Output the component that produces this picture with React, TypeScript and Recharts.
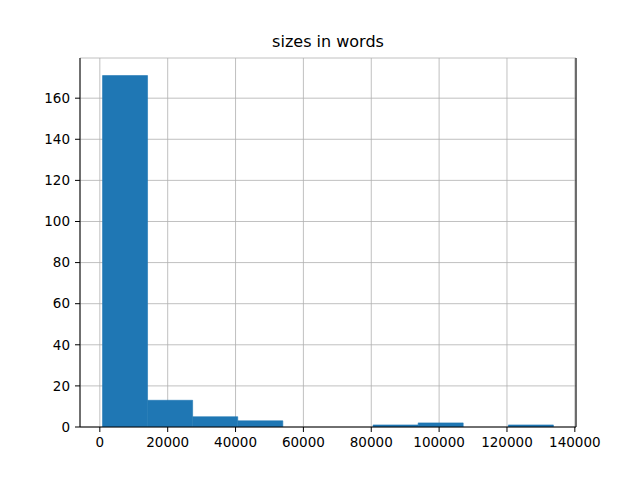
import React from "react";
import { BarChart, Bar, XAxis, YAxis, CartesianGrid } from "recharts";

// Histogram of document sizes (words): 10 equal bins
const binStart = 800;
const binEnd = 133700;
const counts = [171, 13, 5, 3, 0, 0, 1, 2, 0, 1];
const xTicks = [0, 20000, 40000, 60000, 80000, 100000, 120000, 140000];
const yTicks = [0, 20, 40, 60, 80, 100, 120, 140, 160];
const title = "sizes in words";

const binWidth = (binEnd - binStart) / counts.length;
const data = counts.map((c, i) => ({ center: binStart + binWidth * (i + 0.5), count: c }));
const xPad = (binEnd - binStart) * 0.05;
const xDomain = [binStart - xPad, binEnd + xPad];
const yDomain = [0, Math.max(...counts) * 1.05];

const font = "'DejaVu Sans', sans-serif";
const tickStyle = { fill: "#000", fontSize: 13.5, fontFamily: font };

export default function App() {
  return (
    <div style={{ position: "absolute", left: 0, top: 0, width: 640, height: 480, background: "#fff", fontFamily: font }}>
      <div style={{ position: "absolute", left: 80, width: 496, top: 34, textAlign: "center", fontSize: 16, lineHeight: "16px", color: "#000" }}>
        {title}
      </div>
      <BarChart
        width={640}
        height={480}
        data={data}
        margin={{ top: 58, right: 63, bottom: 23, left: 30 }}
        barCategoryGap={0}
        barGap={0}
      >
        <XAxis
          xAxisId="b"
          dataKey="center"
          type="number"
          domain={xDomain}
          ticks={xTicks}
          allowDataOverflow
          height={30}
          tickSize={5}
          tickMargin={5}
          tick={tickStyle}
          axisLine={{ stroke: "#000", strokeWidth: 1 }}
          tickLine={{ stroke: "#000", strokeWidth: 1 }}
        />
        <XAxis xAxisId="t" orientation="top" type="number" domain={xDomain} height={0} tick={false} tickLine={false} axisLine={{ stroke: "#000", strokeWidth: 1 }} />
        <YAxis
          yAxisId="l"
          type="number"
          domain={yDomain}
          ticks={yTicks}
          allowDataOverflow
          width={50}
          tickSize={5}
          tickMargin={5}
          tick={tickStyle}
          axisLine={{ stroke: "#000", strokeWidth: 1 }}
          tickLine={{ stroke: "#000", strokeWidth: 1 }}
        />
        <YAxis yAxisId="r" orientation="right" type="number" domain={yDomain} width={1} tick={false} tickLine={false} axisLine={{ stroke: "#000", strokeWidth: 1 }} />
        <Bar xAxisId="b" yAxisId="l" dataKey="count" fill="#1f77b4" stroke="#1f77b4" strokeWidth={0.6} isAnimationActive={false} />
        <CartesianGrid xAxisId="b" yAxisId="l" stroke="#b0b0b0" strokeWidth={0.8} />
      </BarChart>
    </div>
  );
}
